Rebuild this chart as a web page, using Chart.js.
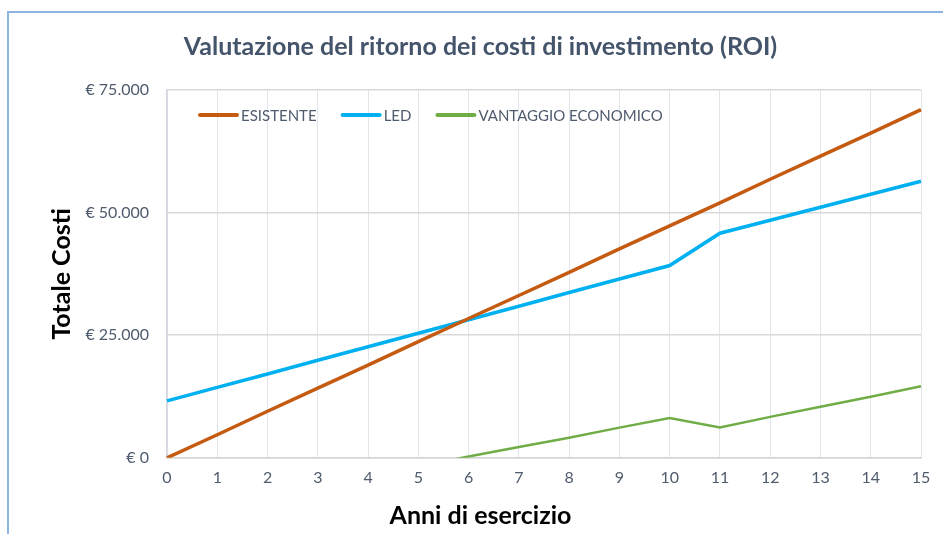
<!DOCTYPE html>
<html>
<head>
<meta charset="utf-8">
<script src="https://cdn.jsdelivr.net/npm/chart.js@4"></script>
<style>
  html, body { margin: 0; padding: 0; background: #fff; }
  #wrap { position: relative; width: 943px; height: 534px; }
  #frame { position: absolute; left: 7px; top: 11px; right: -4px; bottom: -4px;
           border-left: 2px solid #8fb4e3; border-top: 2px solid #8fb4e3; pointer-events: none; }
</style>
</head>
<body>
<div id="wrap">
  <canvas id="roi" width="943" height="534"></canvas>
  <div id="frame"></div>
</div>
<script>
(function (glob) {
  'use strict';

  // years of operation
  const anni = ['0','1','2','3','4','5','6','7','8','9','10','11','12','13','14','15']
  // cumulative costs, euro
  const esistente = [0, 4700, 9500, 14200, 18900, 23700, 28400, 33100, 37800, 42600, 47300, 52000, 56800, 61500, 66200, 71000]
  const led = [11600, 14350, 17100, 19900, 22650, 25400, 28150, 30900, 33700, 36450, 39200, 45800, 48450, 51100, 53750, 56400]
  const vantaggio = [-11600, -9650, -7600, -5700, -3750, -1700, 250, 2200, 4100, 6150, 8100, 6200, 8350, 10400, 12450, 14600]
  const yTicks = [0, 25000, 50000, 75000]

  const txt = '#4f5b6e'
  const font = 'Lato, "Open Sans", sans-serif'

  function euro(v){
    return '€ ' + String(v).replace(/\B(?=(\d{3})+(?!\d))/g, '.')
  }

  // legend drawn inside the plot area, like the spreadsheet chart
  const innerLegend = {
    id: 'innerLegend',
    afterDatasetsDraw(chart){
      const c = chart.ctx, area = chart.chartArea
      let x = area.left + 33
      const y = area.top + 25
      c.save()
      c.font = '15px ' + font
      c.textBaseline = 'middle'
      chart.data.datasets.forEach((ds) => {
        c.strokeStyle = ds.borderColor
        c.lineWidth = 4
        c.lineCap = 'round'
        c.beginPath()
        c.moveTo(x, y)
        c.lineTo(x + 37, y)
        c.stroke()
        c.fillStyle = txt
        c.fillText(ds.label, x + 41, y + 1)
        x += 41 + c.measureText(ds.label).width + 26
      })
      c.restore()
    }
  }

  new Chart(document.getElementById('roi'), {
    type: 'line',
    data: {
      labels: anni,
      datasets: [
        { label: 'ESISTENTE', data: esistente, borderColor: '#c55a11', borderWidth: 3.5 },
        { label: 'LED', data: led, borderColor: '#00b0f0', borderWidth: 3.5 },
        { label: 'VANTAGGIO ECONOMICO', data: vantaggio, borderColor: '#70ad47', borderWidth: 2.5 }
      ]
    },
    options: {
      responsive: false,
      animation: false,
      elements: { point: { radius: 0 }, line: { tension: 0 } },
      layout: { padding: { top: 10, left: 40, right: 22, bottom: 3 } },
      plugins: {
        legend: { display: false },
        tooltip: { enabled: false },
        title: {
          display: true,
          text: 'Valutazione del ritorno dei costi di investimento (ROI)',
          color: '#44546a',
          font: { family: font, size: 25, weight: 'bold' },
          padding: { top: 22, bottom: 28 }
        },
        subtitle: {
          display: true,
          position: 'bottom',
          text: 'Anni di esercizio',
          color: '#000',
          font: { family: font, size: 25, weight: 'bold' },
          padding: { top: 4, bottom: 0 }
        }
      },
      scales: {
        x: {
          grid: { color: '#e2e5eb', lineWidth: 1, drawTicks: false },
          border: { color: '#d6d6d6', width: 1.5 },
          ticks: { color: txt, font: { family: font, size: 16 }, padding: 10, maxRotation: 0 }
        },
        y: {
          min: 0,
          max: 75000,
          afterBuildTicks(scale){ scale.ticks = yTicks.map((v) => ({ value: v })) },
          afterFit(scale){ scale.width = 127 },
          grid: { color: '#d9d9d9', lineWidth: 1.5, drawTicks: false },
          border: { color: '#d3d6de', width: 1.5 },
          ticks: { color: txt, font: { family: font, size: 16 }, padding: 18, callback: (v) => euro(v) },
          title: {
            display: true,
            text: 'Totale Costi',
            color: '#000',
            font: { family: font, size: 25, weight: 'bold' },
            padding: { top: 7, bottom: 0 }
          }
        }
      }
    },
    plugins: [innerLegend]
  })

}(typeof window !== 'undefined' ? window : global))
</script>
</body>
</html>
